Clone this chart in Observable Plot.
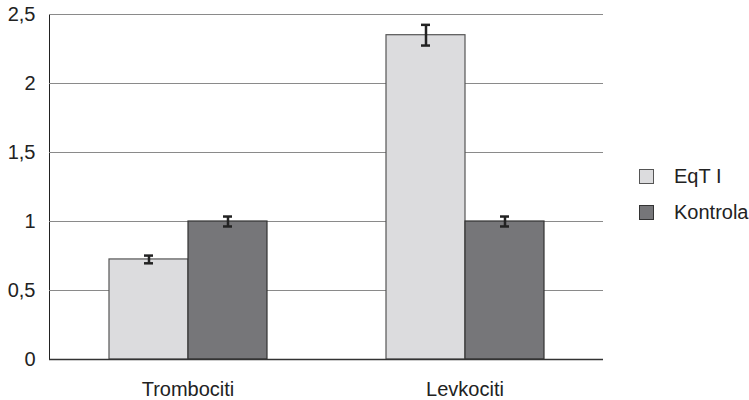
<!DOCTYPE html>
<html>
<head>
<meta charset="utf-8">
<script src="https://cdn.jsdelivr.net/npm/d3@7"></script>
<script src="https://cdn.jsdelivr.net/npm/@observablehq/plot@0.6"></script>
<style>
  body { margin: 0; background: #fff; font-family: "Liberation Sans", Arial, sans-serif; }
  #wrap { position: relative; width: 749px; height: 400px; overflow: hidden; }
  #wrap svg { position: absolute; left: 0; top: 0; }
  .legend { position: absolute; left: 639px; top: 0; font-size: 20px; color: #222; }
  .legend .row { position: absolute; left: 0; display: flex; align-items: center; white-space: nowrap; height: 20px; }
  .legend .sw { width: 15px; height: 15px; box-sizing: border-box; margin-right: 20px; }
</style>
</head>
<body>
<div id="wrap"></div>
<script>
const groups = ["Trombociti", "Levkociti"];
const series = ["EqT I", "Kontrola"];
const eqtValues = [0.725, 2.35];
const eqtErrors = [0.028, 0.075];
const kontrolaValues = [1.0, 1.0];
const kontrolaErrors = [0.036, 0.036];
const yTicks = [0, 0.5, 1, 1.5, 2, 2.5];
const fills = ["#dcdcde", "#767679"];
const strokes = ["#555", "#333"];

const data = [];
groups.forEach((g, i) => {
  data.push({group: g, series: series[0], value: eqtValues[i], err: eqtErrors[i]});
  data.push({group: g, series: series[1], value: kontrolaValues[i], err: kontrolaErrors[i]});
});

const chart = Plot.plot({
  width: 749,
  height: 400,
  marginLeft: 49,
  marginRight: 146,
  marginTop: 14,
  marginBottom: 41,
  style: {fontFamily: "'Liberation Sans', Arial, sans-serif", fontSize: "20px", color: "#222", background: "#fff"},
  fx: {domain: groups, padding: 0, label: null, tickSize: 0, tickPadding: 22},
  x: {domain: series, paddingInner: 0, paddingOuter: 0.753, axis: null},
  y: {domain: [0, 2.5], ticks: yTicks, tickFormat: d => String(d).replace(".", ","), label: null, tickSize: 0, tickPadding: 14, line: true},
  color: {domain: series, range: fills},
  marks: [
    Plot.gridY(yTicks, {stroke: "#8a8a8a", strokeOpacity: 1, strokeWidth: 1}),
    Plot.barY(data, {fx: "group", x: "series", y: "value", fill: "series", stroke: d => strokes[series.indexOf(d.series)], strokeWidth: 1.2}),
    Plot.ruleY([0], {stroke: "#333", strokeWidth: 1.3}),
    Plot.ruleX(data, {fx: "group", x: "series", y1: d => d.value - d.err, y2: d => d.value + d.err, stroke: "#222", strokeWidth: 2.5}),
    Plot.tickY(data, {fx: "group", x: "series", y: d => d.value - d.err, stroke: "#222", strokeWidth: 2.5, insetLeft: 35, insetRight: 35}),
    Plot.tickY(data, {fx: "group", x: "series", y: d => d.value + d.err, stroke: "#222", strokeWidth: 2.5, insetLeft: 35, insetRight: 35})
  ]
});

const wrap = document.getElementById("wrap");
wrap.appendChild(chart);

const legend = document.createElement("div");
legend.className = "legend";
const rowTops = [166, 202];
series.forEach((s, i) => {
  const row = document.createElement("div");
  row.className = "row";
  row.style.top = rowTops[i] + "px";
  const sw = document.createElement("span");
  sw.className = "sw";
  sw.style.background = fills[i];
  sw.style.border = "1px solid " + strokes[i];
  const t = document.createElement("span");
  t.textContent = s;
  row.appendChild(sw);
  row.appendChild(t);
  legend.appendChild(row);
});
wrap.appendChild(legend);
</script>
</body>
</html>
